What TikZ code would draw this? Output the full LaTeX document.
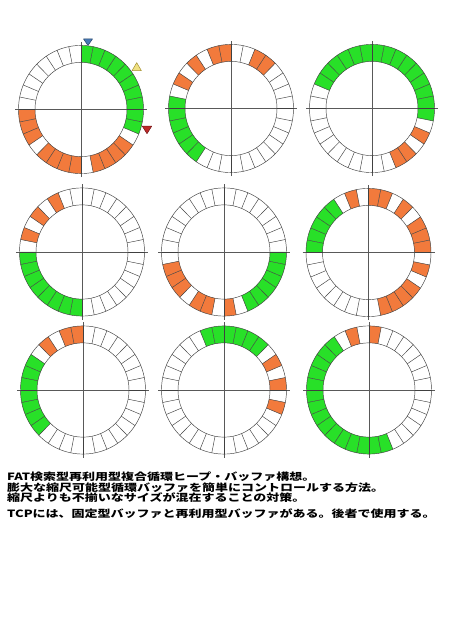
\documentclass[tikz,border=0pt]{standalone}
\usepackage{fontspec}
\newfontfamily\jpfont[FakeStretch=1.3]{Noto Sans CJK JP}
\definecolor{gfill}{RGB}{40,224,40}
\definecolor{ofill}{RGB}{242,122,60}
\definecolor{mblue}{RGB}{70,120,180}
\definecolor{myellow}{RGB}{240,225,130}
\definecolor{myellowd}{RGB}{165,145,50}
\definecolor{mred}{RGB}{190,40,40}
\tikzset{
  ringline/.style={draw=black!75, line width=0.45pt},
  axisline/.style={draw=black!65, line width=0.6pt},
  jptext/.style={anchor=base west, inner sep=0pt, font=\jpfont\bfseries\fontsize{10}{10.2}\selectfont},
  marker/.style={line width=0.5pt, line join=round}
}
\newcommand\segfill[2]{%
  \fill[#1] ({90-11.25*#2}:62.5) arc[start angle={90-11.25*#2}, end angle={90-11.25*(#2+1)}, radius=62.5]
    -- ({90-11.25*(#2+1)}:46) arc[start angle={90-11.25*(#2+1)}, end angle={90-11.25*#2}, radius=46] -- cycle;}
\newcommand\myring[5]{%
  \coordinate (#1) at (#2,#3);
  \begin{scope}[shift={(#1)}, yscale=1.025]
    \foreach \k in {#4} {\segfill{gfill}{\k}}
    \foreach \k in {#5} {\segfill{ofill}{\k}}
    \draw[axisline] (-66,0) -- (66,0);
    \draw[axisline] (0,-66) -- (0,66);
    \foreach \k in {0,...,31} {\draw[ringline] ({90-11.25*\k}:46) -- ({90-11.25*\k}:62.5);}
    \draw[ringline] (0,0) circle[radius=62.5];
    \draw[ringline] (0,0) circle[radius=46];
  \end{scope}}
\begin{document}
\begin{tikzpicture}[x=1pt,y=1pt]
\useasboundingbox (0,0) rectangle (450,640);
\fill[white] (0,0) rectangle (450,640);
% row 1
\myring{r1}{81}{530.5}{0,1,2,3,4,5,6,7,8,9}{11,12,13,14,16,17,18,19,21,22,23}
\myring{r2}{231}{531.5}{19,20,21,22,23,24}{2,3,26,28,30,31}
\myring{r3}{372}{531.5}{26,27,28,29,30,31,0,1,2,3,4,5,6,7,8}{10,12,13}
% row 2
\myring{r4}{82}{388}{16,17,18,19,20,21,22,23}{25,27,29}
\myring{r5}{224}{388}{8,9,10,11,12,13}{15,17,18,20,21,22}
\myring{r6}{368.5}{387.5}{24,25,26,27,28}{0,1,3,5,6,7,9,11,12,13,14,30}
% row 3
\myring{r7}{83}{250}{20,21,22,23,24,25,26}{28,30,31}
\myring{r8}{224}{250}{30,31,0,1,2,3}{5,7,9}
\myring{r9}{369}{250}{14,15,16,17,18,19,20,21,22,23,24,25,26,27,28}{30,0}
% markers on ring 1
\draw[marker, fill=mblue, draw=mblue!60!black, shift={(88,598)}] (-4.5,3) -- (4.5,3) -- (0,-3.5) -- cycle;
\draw[marker, fill=myellow, draw=myellowd, shift={(136.7,573.3)}] (-4.7,-4) -- (4.7,-4) -- (0,4) -- cycle;
\draw[marker, fill=mred, draw=mred!60!black, shift={(147,510.3)}] (-4.7,3.5) -- (4.7,3.5) -- (0,-4) -- cycle;
% text
\node[jptext] (t1) at (7,159) {FAT検索型再利用型複合循環ヒープ・バッファ構想。};
\node[jptext] (t2) at (7,148.7) {膨大な縮尺可能型循環バッファを簡単にコントロールする方法。};
\node[jptext] (t3) at (7,138.4) {縮尺よりも不揃いなサイズが混在することの対策。};
\node[jptext] (t4) at (7,122.5) {TCPには、固定型バッファと再利用型バッファがある。後者で使用する。};
\end{tikzpicture}
\end{document}
